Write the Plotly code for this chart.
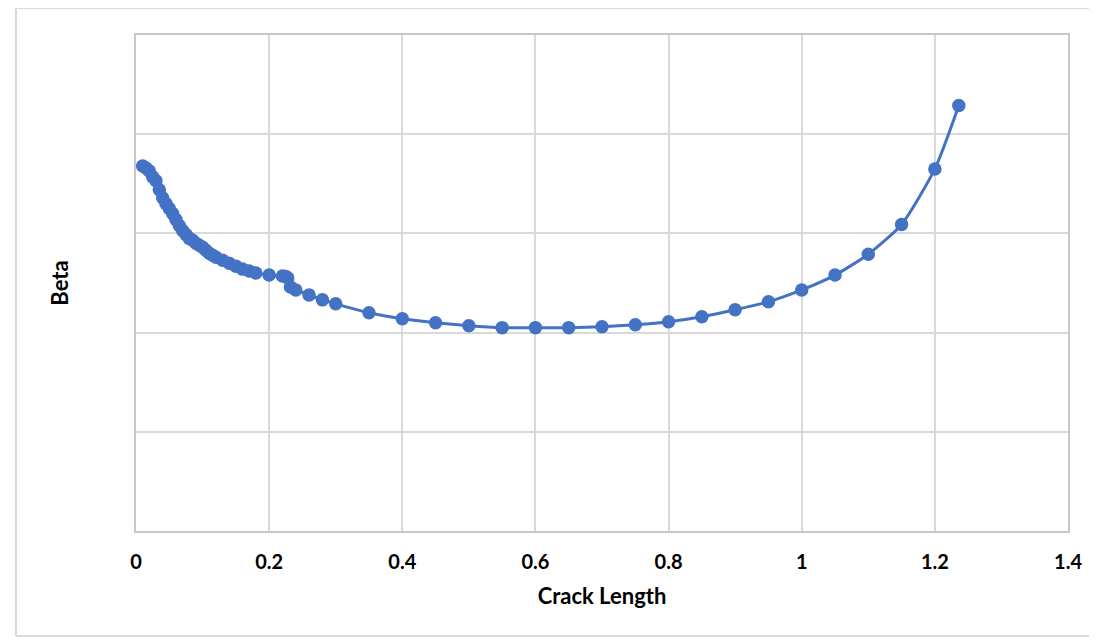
import plotly.graph_objects as go

crack_length = [0.01, 0.015, 0.02, 0.025, 0.03, 0.035, 0.04, 0.045, 0.05, 0.055,
                0.06, 0.065, 0.07, 0.075, 0.08, 0.085, 0.09, 0.095, 0.10, 0.105,
                0.11, 0.115, 0.12, 0.13, 0.14, 0.15, 0.16, 0.17, 0.18, 0.20,
                0.22, 0.225, 0.228, 0.232, 0.24, 0.26, 0.28, 0.30, 0.35, 0.40,
                0.45, 0.50, 0.55, 0.60, 0.65, 0.70, 0.75, 0.80, 0.85, 0.90,
                0.95, 1.00, 1.05, 1.10, 1.15, 1.20, 1.236]
beta = [3.68, 3.66, 3.63, 3.57, 3.53, 3.44, 3.36, 3.30, 3.25, 3.20,
        3.14, 3.08, 3.03, 2.99, 2.95, 2.93, 2.90, 2.88, 2.86, 2.83,
        2.80, 2.78, 2.76, 2.73, 2.70, 2.67, 2.64, 2.62, 2.60, 2.58,
        2.57, 2.565, 2.55, 2.46, 2.43, 2.38, 2.33, 2.29, 2.20, 2.14,
        2.10, 2.07, 2.05, 2.05, 2.05, 2.06, 2.08, 2.11, 2.16, 2.23,
        2.31, 2.43, 2.58, 2.79, 3.09, 3.65, 4.29]
x_ticks = [0, 0.2, 0.4, 0.6, 0.8, 1, 1.2, 1.4]
x_tick_labels = ["0", "0.2", "0.4", "0.6", "0.8", "1", "1.2", "1.4"]

BLUE = "#4472C4"
GRID = "#d9d9d9"
FONT = "Lato, Open Sans, sans-serif"

fig = go.Figure()
fig.add_trace(go.Scatter(
    x=crack_length, y=beta, mode="lines+markers",
    line=dict(color=BLUE, width=3, shape="spline", smoothing=0.6),
    marker=dict(color=BLUE, size=13.5),
    showlegend=False, hoverinfo="x+y",
))

border = dict(color=GRID, width=2)
fig.update_layout(
    width=1089, height=632,
    margin=dict(l=128, r=29, t=27, b=109),
    paper_bgcolor="white", plot_bgcolor="white",
    font=dict(family=FONT, color="#000000"),
    xaxis=dict(
        range=[0, 1.4], tickvals=x_ticks, ticktext=x_tick_labels,
        showgrid=True, gridcolor=GRID, gridwidth=2,
        showline=True, linecolor="#c8c8c8", linewidth=2, mirror=True,
        zeroline=False, ticks="", ticklabelstandoff=12,
        tickfont=dict(size=20, family=FONT, weight="bold"),
        title=dict(text="Crack Length", standoff=17,
                   font=dict(size=22, family=FONT, weight="bold")),
    ),
    yaxis=dict(
        range=[0, 5], dtick=1, showticklabels=False,
        showgrid=True, gridcolor=GRID, gridwidth=2,
        showline=True, linecolor="#c8c8c8", linewidth=2, mirror=True,
        zeroline=False, ticks="",
        title=dict(text="Beta", standoff=59,
                   font=dict(size=22, family=FONT, weight="bold")),
    ),
    shapes=[
        dict(type="line", xref="paper", yref="paper",
             x0=-0.1288, x1=-0.1288, y0=-0.2117, y1=1.0544, line=border, layer="below"),
        dict(type="line", xref="paper", yref="paper",
             x0=-0.1288, x1=1.2, y0=1.0544, y1=1.0544, line=border, layer="below"),
        dict(type="line", xref="paper", yref="paper",
             x0=-0.1288, x1=1.2, y0=-0.2117, y1=-0.2117, line=border, layer="below"),
    ],
)

fig.write_html("out.html")
